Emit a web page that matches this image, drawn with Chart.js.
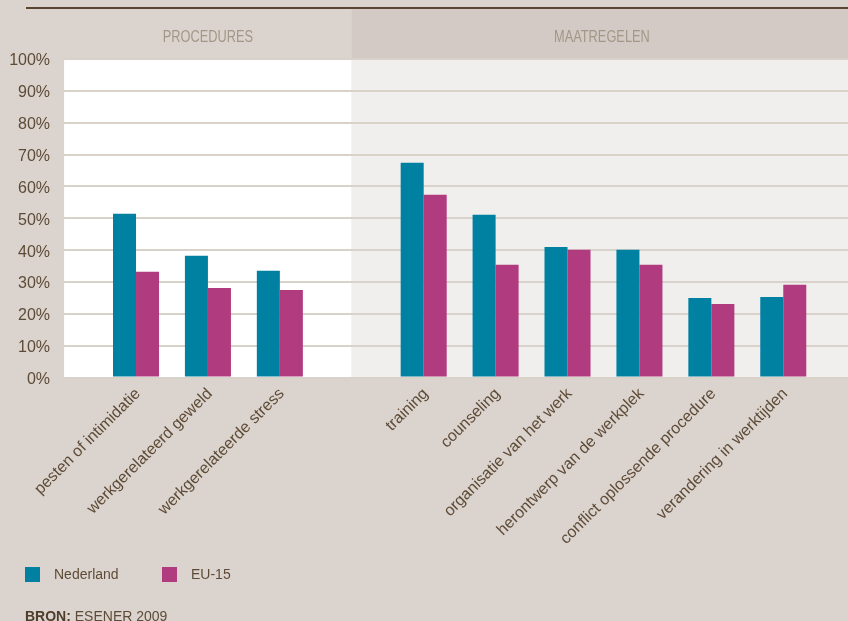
<!DOCTYPE html>
<html lang="nl">
<head>
  <meta charset="UTF-8" />
  <title>Geweld en stress - procedures en maatregelen</title>
  <script src="https://cdn.jsdelivr.net/npm/chart.js"></script>
  <style>
    html, body { margin: 0; padding: 0; background: #dbd4ce; }
    #wrap { width: 848px; height: 621px; position: relative; }
  </style>
</head>
<body>
  <div id="wrap"><canvas id="chart"></canvas></div>

  <script>
    // data
    const categories = [
      "pesten of intimidatie", "werkgerelateerd geweld", "werkgerelateerde stress",
      "training", "counseling", "organisatie van het werk", "herontwerp van de werkplek",
      "conflict oplossende procedure", "verandering in werktijden"
    ];
    const sections = ["PROCEDURES", "PROCEDURES", "PROCEDURES",
      "MAATREGELEN", "MAATREGELEN", "MAATREGELEN", "MAATREGELEN", "MAATREGELEN", "MAATREGELEN"];
    const nederland = [51.4, 38.2, 33.5, 67.4, 51.1, 41.0, 40.1, 25.0, 25.3];
    const eu15 = [33.2, 28.1, 27.5, 57.4, 35.4, 40.1, 35.4, 23.1, 29.1];
    const yTicks = [0, 10, 20, 30, 40, 50, 60, 70, 80, 90, 100];

    // slot per categorie, met een lege slot tussen de secties
    const slots = [];
    let s = 0;
    categories.forEach((c, i) => {
      s += (i > 0 && sections[i] !== sections[i - 1]) ? 2 : 1;
      slots.push(s);
    });
    const sectionNames = [...new Set(sections)];
    const boundary = slots[sections.indexOf(sectionNames[1])] - 1; // lege slot
    const X_MAX = 10.9;

    const brown = "#5e4b37";
    const font = "'Liberation Sans', Arial, sans-serif";

    // smalle kop: gewone letter, horizontaal samengedrukt
    function narrowText(ctx, text, x, y) {
      ctx.save();
      ctx.translate(x, y);
      ctx.scale(0.8, 1);
      ctx.fillText(text, 0, 0);
      ctx.restore();
    }

    const panels = {
      id: "panels",
      beforeDraw(chart) {
        const { ctx, chartArea: a, scales: { x } } = chart;
        const xb = x.getPixelForValue(boundary);
        ctx.save();
        ctx.fillStyle = "#dbd4ce";
        ctx.fillRect(0, 0, chart.width, chart.height);
        // kopband
        ctx.fillStyle = "#d3cac5";
        ctx.fillRect(xb, 9, chart.width - xb, a.top - 9);
        // plotvlakken
        ctx.fillStyle = "#ffffff";
        ctx.fillRect(a.left, a.top, xb - a.left, a.bottom - a.top);
        ctx.fillStyle = "#f1efed";
        ctx.fillRect(xb, a.top, a.right - xb, a.bottom - a.top);
        // lijn bovenaan
        ctx.fillStyle = "#5a4630";
        ctx.fillRect(26, 7, chart.width - 26, 2);
        // sectietitels
        ctx.fillStyle = "#a39787";
        ctx.font = "16px " + font;
        ctx.textAlign = "center";
        ctx.textBaseline = "middle";
        narrowText(ctx, sectionNames[0], (a.left + xb) / 2, 37.5);
        narrowText(ctx, sectionNames[1], (xb + a.right) / 2 + 2, 37.5);
        ctx.restore();
      },
      afterDraw(chart) {
        const { ctx } = chart;
        ctx.save();
        // legenda
        const items = chart.data.datasets;
        const lx = [25, 162];
        items.forEach((d, i) => {
          ctx.fillStyle = d.backgroundColor;
          ctx.fillRect(lx[i], 567, 15, 15);
          ctx.fillStyle = brown;
          ctx.font = "14px " + font;
          ctx.textAlign = "left";
          ctx.textBaseline = "middle";
          ctx.fillText(d.label, lx[i] + 29, 575);
        });
        // bron
        ctx.textBaseline = "alphabetic";
        ctx.fillStyle = "#4f3d2b";
        ctx.font = "bold 14px " + font;
        ctx.fillText("BRON:", 25, 621);
        const w = ctx.measureText("BRON: ").width;
        ctx.fillStyle = brown;
        ctx.font = "14px " + font;
        ctx.fillText("ESENER 2009", 25 + w, 621);
        ctx.restore();
      }
    };

    new Chart(document.getElementById("chart"), {
      type: "bar",
      data: {
        datasets: [
          {
            label: "Nederland",
            data: categories.map((c, i) => ({ x: slots[i], y: nederland[i] })),
            backgroundColor: "#0181a1"
          },
          {
            label: "EU-15",
            data: categories.map((c, i) => ({ x: slots[i], y: eu15[i] })),
            backgroundColor: "#b13b7f"
          }
        ]
      },
      options: {
        responsive: true,
        maintainAspectRatio: false,
        animation: false,
        layout: { padding: { top: 59, left: 0, right: 0, bottom: 0 } },
        categoryPercentage: 0.64,
        barPercentage: 1,
        plugins: {
          legend: { display: false },
          tooltip: { enabled: false }
        },
        scales: {
          x: {
            type: "linear",
            min: 0,
            max: X_MAX,
            offset: false,
            grid: { display: false },
            border: { display: false },
            afterBuildTicks: sc => { sc.ticks = slots.map(v => ({ value: v })); },
            afterFit: sc => { sc.height = 621 - 377.5; },
            ticks: {
              autoSkip: false,
              minRotation: 45,
              maxRotation: 45,
              padding: -1,
              labelOffset: 2,
              color: brown,
              font: { family: font, size: 16 },
              callback: v => categories[slots.indexOf(v)] || ""
            }
          },
          y: {
            min: 0,
            max: 100,
            afterBuildTicks: sc => { sc.ticks = yTicks.map(v => ({ value: v })); },
            afterFit: sc => { sc.width = 64.1; },
            grid: { color: "#d9d2ca", lineWidth: 2, drawTicks: false },
            border: { display: false },
            ticks: {
              padding: 14,
              labelOffset: 2,
              color: brown,
              font: { family: font, size: 16 },
              callback: v => v + "%"
            }
          }
        }
      },
      plugins: [panels]
    });
  </script>
</body>
</html>
